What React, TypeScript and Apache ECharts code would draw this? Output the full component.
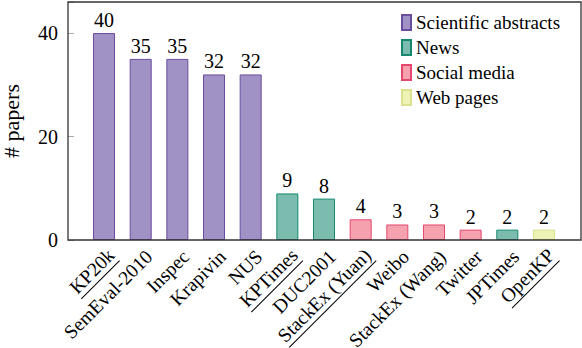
import React, { useEffect, useRef } from "react";
import * as echarts from "echarts";

const categories = [
  "KP20k", "SemEval-2010", "Inspec", "Krapivin", "NUS", "KPTimes", "DUC2001",
  "StackEx (Yuan)", "Weibo", "StackEx (Wang)", "Twitter", "JPTimes", "OpenKP",
];
const values = [40, 35, 35, 32, 32, 9, 8, 4, 3, 3, 2, 2, 2];
const domains = [
  "Scientific abstracts", "Scientific abstracts", "Scientific abstracts", "Scientific abstracts", "Scientific abstracts",
  "News", "News", "Social media", "Social media", "Social media", "Social media", "News", "Web pages",
];
const domainNames = ["Scientific abstracts", "News", "Social media", "Web pages"];
const underlined = ["KP20k", "KPTimes", "StackEx (Yuan)", "OpenKP"];
const yTicks = [0, 20, 40];

const fills = ["#a192c5", "#7bbcae", "#f6a1ae", "#eef2b5"];
const borders = ["#6a4c9e", "#14896f", "#e5476f", "#dbe18e"];
const FONT = "'Liberation Serif', 'Times New Roman', serif";

export default function App() {
  const ref = useRef<HTMLDivElement>(null);
  useEffect(() => {
    document.body.style.margin = "0";
    document.body.style.overflow = "hidden";
    document.documentElement.style.overflow = "hidden";
    const chart = echarts.init(ref.current!, null, { renderer: "svg" });
    const series = domainNames.map((d, k) => ({
      name: d,
      type: "bar",
      barWidth: 22,
      barGap: "-100%",
      data: values.map((v, i) => (domains[i] === d ? v : "-")),
      itemStyle: { color: fills[k], borderColor: borders[k], borderWidth: 1 },
      label: {
        show: true,
        position: "top",
        distance: 3,
        color: "#000",
        fontSize: 20,
        fontFamily: FONT,
      },
    }));
    chart.setOption({
      animation: false,
      textStyle: { fontFamily: FONT },
      grid: { left: 85.7, right: 19.7, top: 2, bottom: 108, containLabel: false, outerBoundsMode: "none" },
      graphic: [
        {
          type: "rect",
          shape: { x: 68, y: 2, width: 513, height: 238 },
          style: { fill: "none", stroke: "#333", lineWidth: 1.3 },
          z: 10,
        },
      ],
      legend: {
        orient: "vertical",
        left: 401,
        top: 13,
        icon: "rect",
        itemWidth: 9,
        itemHeight: 15,
        itemGap: 6,
        padding: 0,
        data: domainNames,
        textStyle: { fontSize: 19, fontFamily: FONT, color: "#000", lineHeight: 19 },
      },
      xAxis: {
        type: "category",
        data: categories,
        axisLine: { show: false },
        axisTick: { show: false },
        axisLabel: {
          interval: 0,
          rotate: 45,
          margin: 5,
          padding: [24, 0, 0, 0],
          fontSize: 19.5,
          fontFamily: FONT,
          color: "#000",
          formatter: (v: string) =>
            underlined.includes(v) ? `{t|${v}}\n{hr|}` : v,
          rich: {
            t: { fontSize: 19.5, fontFamily: FONT, color: "#000" },
            hr: { width: "100%", height: 1, backgroundColor: "#000", lineHeight: 4 },
          },
        },
      },
      yAxis: {
        type: "value",
        min: 0,
        max: 46,
        interval: 20,
        offset: 17.7,
        name: "# papers",
        nameLocation: "middle",
        nameGap: 46,
        nameTextStyle: { fontSize: 22, fontFamily: FONT, color: "#000" },
        axisLine: { show: false },
        axisTick: { show: true, inside: true, length: 6, lineStyle: { color: "#aaa" } },
        splitLine: { show: false },
        axisLabel: {
          margin: 10,
          fontSize: 20,
          fontFamily: FONT,
          color: "#000",
          formatter: (v: number) => (yTicks.includes(v) ? String(v) : ""),
        },
      },
      series,
    });
    return () => chart.dispose();
  }, []);
  return <div ref={ref} style={{ width: 582, height: 348 }} />;
}
